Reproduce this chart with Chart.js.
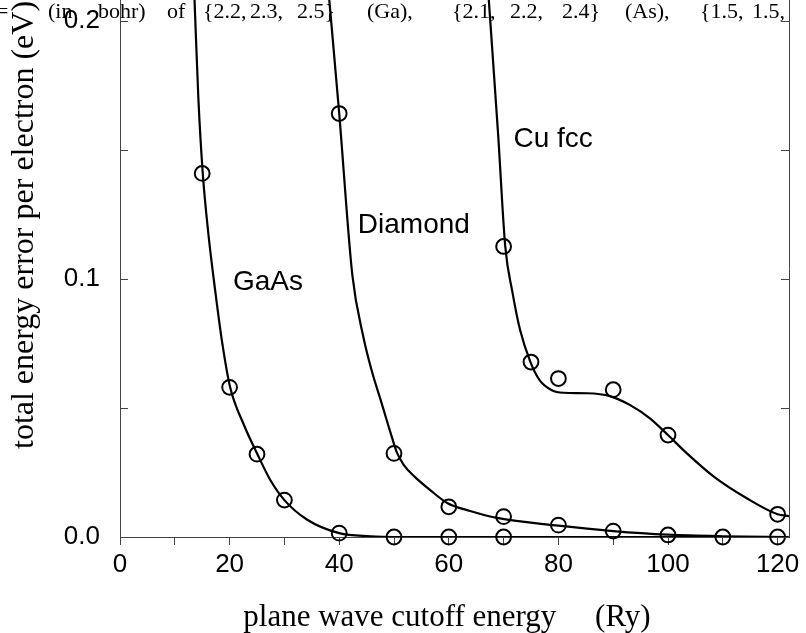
<!DOCTYPE html>
<html>
<head>
<meta charset="utf-8">
<script src="https://cdn.jsdelivr.net/npm/chart.js@4"></script>
<style>
  html, body { margin: 0; padding: 0; background: #fff; }
</style>
</head>
<body>
<canvas id="chart" width="806" height="633"></canvas>
<script>
// measured points (open circles)
const gaasX = [15, 20, 25, 30, 40, 50, 60, 70];
const gaasY = [0.1409, 0.058, 0.0321, 0.0143, 0.0015, 0, 0, 0];
const diamondX = [40, 50, 60, 70, 80, 90, 100, 110, 120];
const diamondY = [0.1641, 0.0324, 0.0117, 0.0079, 0.0046, 0.0023, 0.0008, 0, 0];
const cuX = [70, 75, 80, 90, 100, 120];
const cuY = [0.1126, 0.0678, 0.0614, 0.0571, 0.0395, 0.0088];

// fitted curves
const gaasFitX = [13.6, 14.3, 15.1, 16.1, 17.4, 18.6, 20.1, 22.6, 25.1, 27.4, 30.0, 34.1, 40.0, 45.7, 50, 122];
const gaasFitY = [0.2081, 0.170, 0.141, 0.118, 0.095, 0.076, 0.058, 0.0435, 0.032, 0.0222, 0.0143, 0.0068, 0.0015, 0.0003, 0, 0];
const diamondFitX = [38.19, 40.0, 42.4, 44.4, 45.9, 47.75, 49.6, 50.5, 51.8, 53.8, 56.6, 59.7, 63.9, 68.8, 80, 90, 100, 110, 122];
const diamondFitY = [0.2081, 0.1642, 0.1015, 0.0776, 0.0647, 0.0518, 0.0388, 0.0329, 0.0279, 0.0233, 0.0182, 0.0132, 0.0101, 0.0074, 0.0044, 0.0023, 0.0009, 0.0003, 0];
const cuFitX = [67.3, 69.0, 70.3, 71.6, 73.0, 74.9, 76.6, 78.8, 80.9, 85.2, 89.4, 93.1, 96.7, 100.0, 103.4, 108.3, 114.3, 120.0, 122.1];
const cuFitY = [0.2081, 0.156, 0.1126, 0.095, 0.0803, 0.0678, 0.0607, 0.0569, 0.0559, 0.0557, 0.0546, 0.0511, 0.046, 0.0395, 0.0325, 0.0235, 0.0151, 0.0088, 0.0081];

const xTicks = [0, 10, 20, 30, 40, 50, 60, 70, 80, 90, 100, 110, 120];
const xTickLabels = ['0', '', '20', '', '40', '', '60', '', '80', '', '100', '', '120'];
const yTicks = [0, 0.05, 0.1, 0.15, 0.2];
const yTickLabels = ['0.0', '', '0.1', '', '0.2'];

const seriesNames = ['GaAs', 'Diamond', 'Cu fcc'];
const xTitle = 'plane wave cutoff energy     (Ry)';
const yTitle = 'total energy error per electron (eV)';
const captionWords = ['=', '(in', 'bohr)', 'of', '{2.2,', '2.3,', '2.5}', '(Ga),', '{2.1,', '2.2,', '2.4}', '(As),', '{1.5,', '1.5,'];

// where the in-plot names sit (data coords, left/baseline)
const namePos = [[20.6, 0.0957], [43.4, 0.1177], [71.8, 0.1513]];
const captionLeft = [-4, 48, 98, 167, 203, 250, 297, 367, 452, 510, 562, 625, 700, 752];

const pts = (xs, ys) => xs.map((x, i) => ({x, y: ys[i]}));

function curve(xs, ys) {
  return {
    type: 'line', data: pts(xs, ys),
    borderColor: '#000', borderWidth: 2.2, pointRadius: 0,
    cubicInterpolationMode: 'monotone', fill: false
  };
}
function marks(xs, ys) {
  return {
    type: 'scatter', data: pts(xs, ys),
    borderColor: '#000', borderWidth: 2, backgroundColor: 'rgba(0,0,0,0)',
    pointRadius: 7.4, pointHoverRadius: 7.4, clip: false
  };
}

const decor = {
  id: 'decor',
  afterDraw(chart) {
    const {ctx, chartArea: a, scales: {x, y}} = chart;
    ctx.save();
    ctx.strokeStyle = '#444';
    ctx.lineWidth = 1;
    ctx.beginPath();
    ctx.moveTo(a.right + 0.5, 0);
    ctx.lineTo(a.right + 0.5, a.bottom);
    y.ticks.forEach(t => {
      const py = Math.round(y.getPixelForValue(t.value)) + 0.5;
      ctx.moveTo(a.left, py); ctx.lineTo(a.left + 8, py);
      ctx.moveTo(a.right, py); ctx.lineTo(a.right - 8, py);
    });
    ctx.stroke();

    ctx.fillStyle = '#000';
    ctx.textBaseline = 'alphabetic';
    ctx.textAlign = 'left';
    ctx.font = '28px "Liberation Sans", Arial, sans-serif';
    seriesNames.forEach((n, i) => {
      ctx.fillText(n, x.getPixelForValue(namePos[i][0]), y.getPixelForValue(namePos[i][1]));
    });

    // caption line cut off at the top of the figure
    ctx.font = '22px "Liberation Serif", "Times New Roman", serif';
    captionWords.forEach((w, i) => ctx.fillText(w, captionLeft[i], 18));

    ctx.font = '31px "Liberation Serif", "Times New Roman", serif';
    ctx.textAlign = 'center';
    ctx.fillText(xTitle, 447, 626);

    ctx.font = '32px "Liberation Serif", "Times New Roman", serif';
    ctx.translate(33, 449);
    ctx.rotate(-Math.PI / 2);
    ctx.textAlign = 'left';
    ctx.fillText(yTitle, 0, 0);
    ctx.restore();
  }
};

new Chart(document.getElementById('chart'), {
  data: {
    datasets: [
      curve(gaasFitX, gaasFitY),
      curve(diamondFitX, diamondFitY),
      curve(cuFitX, cuFitY),
      marks(gaasX, gaasY),
      marks(diamondX, diamondY),
      marks(cuX, cuY)
    ]
  },
  options: {
    responsive: false,
    animation: false,
    layout: {autoPadding: false, padding: {top: 0, right: 17, bottom: 0, left: 0}},
    plugins: {legend: {display: false}, tooltip: {enabled: false}, title: {display: false}},
    scales: {
      x: {
        type: 'linear', min: 0, max: 122.08,
        afterFit: s => { s.height = 96; s.paddingLeft = 0; s.paddingRight = 0; },
        afterBuildTicks: s => { s.ticks = xTicks.map(v => ({value: v})); },
        grid: {drawOnChartArea: false, drawTicks: true, tickLength: 8, color: '#444', lineWidth: 1},
        border: {display: true, color: '#444', width: 1},
        ticks: {
          padding: 4, color: '#000', maxRotation: 0, autoSkip: false,
          font: {family: '"Liberation Sans", Arial, sans-serif', size: 26},
          callback: (v, i) => xTickLabels[i]
        }
      },
      y: {
        type: 'linear', min: 0, max: 0.2081,
        afterFit: s => { s.width = 120; s.paddingTop = 0; s.paddingBottom = 0; },
        afterBuildTicks: s => { s.ticks = yTicks.map(v => ({value: v})); },
        grid: {display: false, drawTicks: false},
        border: {display: true, color: '#444', width: 1},
        ticks: {
          padding: 20, color: '#000', autoSkip: false,
          font: {family: '"Liberation Sans", Arial, sans-serif', size: 26},
          callback: (v, i) => yTickLabels[i]
        }
      }
    }
  },
  plugins: [decor]
});
</script>
</body>
</html>
